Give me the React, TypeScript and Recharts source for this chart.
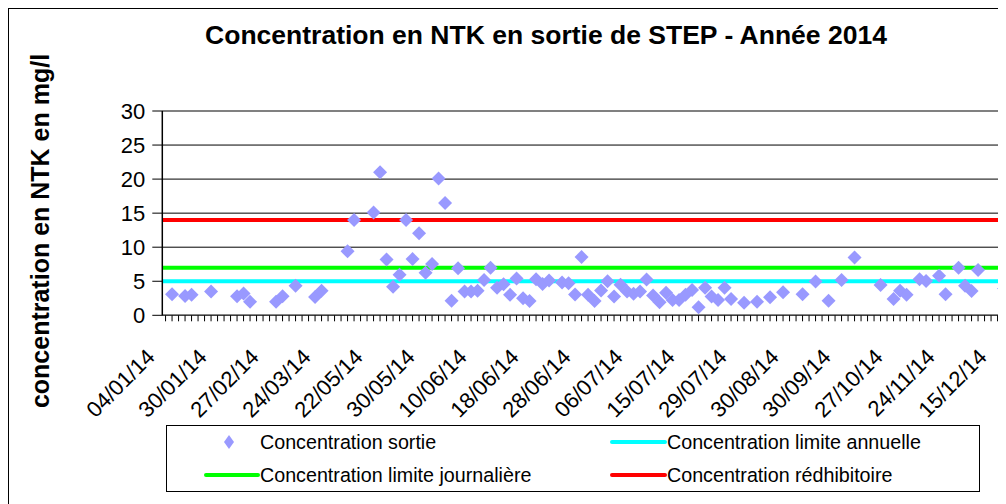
import React from 'react';
import { ComposedChart, Line, XAxis, YAxis, CartesianGrid, ReferenceLine, Legend } from 'recharts';

const FONT = '"Liberation Sans", Arial, sans-serif';

// categories: sample number (date shown every 8th sample)
const SAMPLE_COUNT = 136;
const LABEL_STEP = 8;
const dateLabels = [
  '04/01/14', '30/01/14', '27/02/14', '24/03/14', '22/05/14', '30/05/14', '10/06/14', '18/06/14', '28/06/14',
  '06/07/14', '15/07/14', '29/07/14', '30/08/14', '30/09/14', '27/10/14', '24/11/14', '15/12/14',
];

// measured outlet concentration (sample index -> value, mg/l)
const sortieSample = [
  1, 3, 4, 7, 11, 12, 13, 17, 18, 20,
  23, 24, 28, 29, 32, 33, 34, 35, 36, 37,
  38, 39, 40, 41, 42, 43, 44, 45, 46, 47,
  48, 49, 50, 51, 52, 53, 54, 55, 56, 57,
  58, 59, 61, 62, 63, 64, 65, 66, 67, 68,
  69, 70, 71, 72, 73, 74, 75, 76, 77, 78,
  79, 80, 81, 82, 83, 84, 85, 86, 87, 89,
  91, 93, 95, 98, 100, 102, 104, 106, 110, 112,
  113, 114, 116, 117, 119, 120, 122, 123, 124, 125,
  129,
];
const sortieValue = [
  3.1, 2.85, 3.0, 3.5, 2.8, 3.2, 2.0, 2.0, 2.8, 4.35,
  2.7, 3.6, 9.4, 14.0, 15.1, 21.0, 8.2, 4.2, 5.95, 14.0,
  8.25, 12.05, 6.25, 7.55, 20.1, 16.5, 2.15, 6.9, 3.5, 3.5,
  3.6, 5.2, 7.0, 4.05, 4.55, 3.0, 5.4, 2.5, 2.1, 5.3,
  4.6, 5.1, 4.8, 4.7, 3.05, 8.55, 3.0, 2.1, 3.65, 5.0,
  2.75, 4.5, 3.5, 3.15, 3.5, 5.25, 2.9, 1.9, 3.3, 2.25,
  2.25, 3.0, 3.7, 1.2, 4.05, 2.75, 2.25, 4.05, 2.4, 1.85,
  2.0, 2.65, 3.4, 3.1, 4.95, 2.15, 5.2, 8.5, 4.45, 2.4,
  3.6, 3.0, 5.3, 5.05, 5.8, 3.1, 7.0, 4.35, 3.55, 6.65,
  3.95,
];

// limits (mg/l)
const limiteAnnuelle = 5;
const limiteJournaliere = 7;
const concRedhibitoire = 14;

const yTicks = [0, 5, 10, 15, 20, 25, 30];

const data = Array.from({ length: SAMPLE_COUNT }, (_, i) => {
  const k = sortieSample.indexOf(i);
  return { sample: i, sortie: k >= 0 ? sortieValue[k] : null };
});

const COL_SORTIE = '#9999FF';
const COL_ANNUELLE = '#00FFFF';
const COL_JOURNALIERE = '#00FF00';
const COL_REDHIB = '#FF0000';

const Diamond = (props: any) => {
  const { cx, cy, payload } = props;
  if (payload == null || payload.sortie == null || cx == null || cy == null) return <g key={props.key} />;
  const r = 7;
  return (
    <polygon
      key={props.key}
      points={`${cx},${cy - r} ${cx + r},${cy} ${cx},${cy + r} ${cx - r},${cy}`}
      fill={COL_SORTIE}
    />
  );
};

const XTick = (props: any) => {
  const { x, y, payload } = props;
  const i = Number(payload.value);
  if (i % LABEL_STEP !== 0) return <g />;
  const label = dateLabels[i / LABEL_STEP];
  if (!label) return <g />;
  const tx = x - 9.5;
  const ty = y + 35;
  return (
    <text
      x={tx}
      y={ty}
      transform={`rotate(-45 ${tx} ${ty})`}
      textAnchor="end"
      fontSize={22}
      fontFamily={FONT}
      fill="#000"
    >
      {label}
    </text>
  );
};

const LegendBox = () => {
  const W = 814;
  const H = 67;
  const r1 = 17;
  const r2 = 50;
  const textStyle: React.CSSProperties = {
    position: 'absolute',
    fontFamily: FONT,
    fontSize: 19.7,
    lineHeight: '22px',
    color: '#000',
    whiteSpace: 'nowrap',
  };
  return (
    <div style={{ position: 'relative', width: W, height: H, border: '1px solid #000', boxSizing: 'border-box', background: '#fff' }}>
      <svg width={W} height={H} style={{ position: 'absolute', left: -1, top: -1 }}>
        <polygon points={`63,${r1 - 7} 68,${r1} 63,${r1 + 7} 58,${r1}`} fill={COL_SORTIE} />
        <line x1={40} x2={92} y1={r2} y2={r2} stroke={COL_JOURNALIERE} strokeWidth={4} strokeLinecap="round" />
        <line x1={446} x2={499} y1={r1} y2={r1} stroke={COL_ANNUELLE} strokeWidth={4} strokeLinecap="round" />
        <line x1={446} x2={499} y1={r2} y2={r2} stroke={COL_REDHIB} strokeWidth={4} strokeLinecap="round" />
      </svg>
      <span style={{ ...textStyle, left: 93, top: r1 - 12 }}>Concentration sortie</span>
      <span style={{ ...textStyle, left: 93, top: r2 - 12 }}>Concentration limite journalière</span>
      <span style={{ ...textStyle, left: 500, top: r1 - 12 }}>Concentration limite annuelle</span>
      <span style={{ ...textStyle, left: 500, top: r2 - 12 }}>Concentration rédhibitoire</span>
    </div>
  );
};

export default function App() {
  return (
    <div
      style={{
        position: 'relative',
        width: 998,
        height: 496,
        overflow: 'hidden',
        background: '#fff',
      }}
    >
      <style>{'html, body { overflow: hidden; }'}</style>
      <div
        style={{
          position: 'absolute',
          left: 138,
          top: 12,
          width: 800,
          height: 30,
          lineHeight: '30px',
          textAlign: 'center',
          fontFamily: FONT,
          fontWeight: 'bold',
          fontSize: 26.5,
          color: '#000',
          whiteSpace: 'nowrap',
        }}
      >
        Concentration en NTK en sortie de STEP - Année 2014
      </div>
      <div
        style={{
          position: 'absolute',
          left: 32 - 200,
          top: 223 - 15,
          width: 400,
          height: 30,
          lineHeight: '30px',
          textAlign: 'center',
          transform: 'rotate(-90deg)',
          fontFamily: FONT,
          fontWeight: 'bold',
          fontSize: 25,
          color: '#000',
          whiteSpace: 'nowrap',
        }}
      >
        concentration en NTK en mg/l
      </div>
      <ComposedChart
        width={1046}
        height={489}
        data={data}
        margin={{ top: 103, right: 7.7, bottom: 0, left: 0 }}
      >
        <CartesianGrid vertical={false} stroke="#000" strokeWidth={1} />
        <XAxis
          dataKey="sample"
          type="category"
          scale="band"
          interval={0}
          height={181.7}
          tick={<XTick />}
          tickSize={6}
          tickMargin={2}
          axisLine={{ stroke: '#404040', strokeWidth: 1.5 }}
          tickLine={{ stroke: '#000' }}
        />
        <YAxis
          type="number"
          domain={[0, 30]}
          ticks={yTicks}
          interval={0}
          width={154.3}
          tickSize={10}
          tickMargin={7}
          axisLine={{ stroke: '#000', strokeWidth: 1.5 }}
          tickLine={{ stroke: '#000' }}
          tick={{ fill: '#000', fontSize: 22, fontFamily: FONT }}
        />
        <ReferenceLine y={30} stroke="#808080" strokeWidth={2} />
        <ReferenceLine y={limiteAnnuelle} stroke={COL_ANNUELLE} strokeWidth={4} />
        <ReferenceLine y={limiteJournaliere} stroke={COL_JOURNALIERE} strokeWidth={4} />
        <ReferenceLine y={concRedhibitoire} stroke={COL_REDHIB} strokeWidth={4} />
        <Line
          dataKey="sortie"
          name="Concentration sortie"
          stroke="none"
          dot={Diamond}
          activeDot={false}
          connectNulls={false}
          isAnimationActive={false}
        />
        <Legend
          layout="horizontal"
          verticalAlign="middle"
          align="center"
          wrapperStyle={{ position: 'absolute', left: 158, top: 417, width: 814, height: 67 }}
          content={<LegendBox />}
        />
      </ComposedChart>
      <div
        style={{
          position: 'absolute',
          left: 0,
          top: 0,
          width: 1040,
          height: 540,
          borderLeft: '1px solid #000',
          borderTop: '1px solid #000',
          boxSizing: 'border-box',
          pointerEvents: 'none',
        }}
      />
    </div>
  );
}
